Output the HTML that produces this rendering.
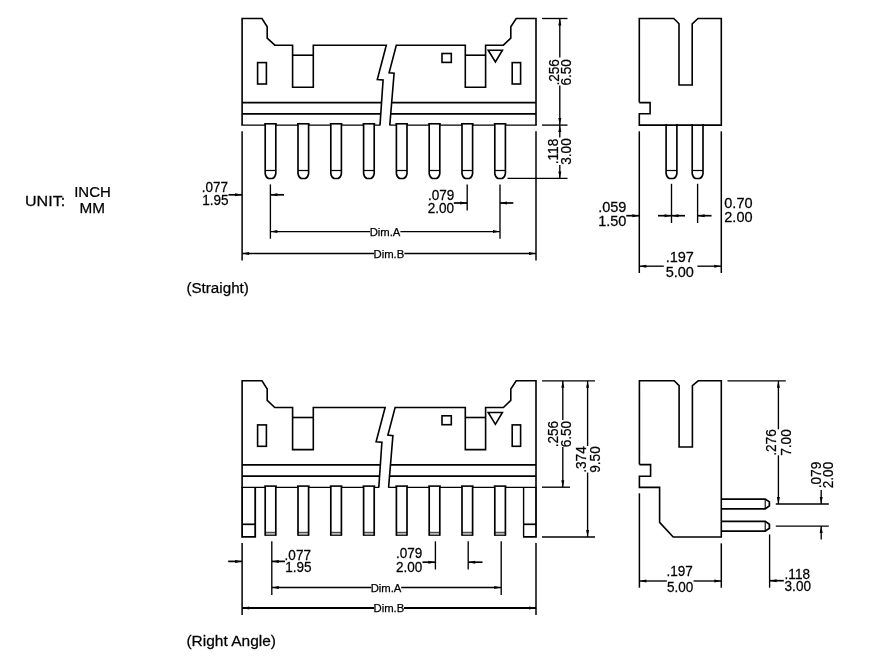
<!DOCTYPE html>
<html lang="en">
<head>
<meta charset="utf-8">
<title>Connector dimensions</title>
<style>
html,body{margin:0;padding:0;background:#fff;}
body{width:872px;height:658px;overflow:hidden;}
svg{display:block;will-change:transform;}
svg .bg{fill:#fff;stroke:none;}
svg line,svg polyline,svg polygon,svg path,svg rect{fill:none;stroke:#000;stroke-width:1.6;stroke-linecap:butt;stroke-linejoin:miter;}
svg .d{stroke-width:1.35;}
svg .a{fill:#000;stroke:none;}
svg .t{font-family:"Liberation Sans",sans-serif;font-size:15.3px;fill:#000;stroke:#000;stroke-width:0.25px;}
</style>
</head>
<body>
<svg role="img" aria-label="Connector outline drawing with dimensions" width="872" height="658" viewBox="0 0 872 658">
<rect class="bg" x="0" y="0" width="872" height="658"/>
<g id="straight-front">
<line x1="241.3" y1="125.1" x2="380.4" y2="125.1" style="stroke-width:1.35"/>
<polyline points="242.1,125.1 242.1,18.5 262,18.5 267.2,26.8 267.2,38.1 274.8,45.2 292.6,45.2 292.6,87.3 313.3,87.3 313.3,45.2 386.3,45.2 377.3,79.5 383.1,79.9 380,125.1"/>
<line x1="292.6" y1="55.2" x2="313.3" y2="55.2"/>
<rect x="257.6" y="62.6" width="8.8" height="21.4"/>
<line x1="242.1" y1="102.6" x2="381.5" y2="102.6"/>
<line x1="242.1" y1="113.9" x2="380.8" y2="113.9" style="stroke-width:1.8"/>
<line x1="389.4" y1="125.1" x2="536.8" y2="125.1" style="stroke-width:1.35"/>
<polyline points="536,125.1 536,18.5 516.2,18.5 510.8,26.8 510.8,38.1 503.4,45.2 485.6,45.2 485.6,87.3 465.3,87.3 465.3,45.2 396.3,45.2 389.1,72.8 394.1,73.3 389.8,125.1"/>
<line x1="465.3" y1="55.2" x2="485.6" y2="55.2"/>
<rect x="442" y="53.5" width="9.3" height="8.9"/>
<rect x="512.2" y="62.6" width="8.4" height="21.4"/>
<polygon points="488.2,50.2 502.4,50.2 495.4,62"/>
<line x1="391.7" y1="102.6" x2="536" y2="102.6"/>
<line x1="390.8" y1="113.9" x2="536" y2="113.9" style="stroke-width:1.8"/>
<rect x="265.2" y="123.5" width="10.6" height="3" style="fill:#fff;stroke:none"/>
<line x1="264.2" y1="123.8" x2="276.8" y2="123.8" style="stroke-width:1.6"/>
<path d="M265.2 124.1 V173.6 Q265.7 177.2 268.5 178.5 H272.5 Q275.3 177.2 275.8 173.6 V124.1" style="stroke-width:1.65"/>
<line x1="265.2" y1="170.5" x2="275.8" y2="170.5" style="stroke-width:1.2"/>
<rect x="298" y="123.5" width="10.6" height="3" style="fill:#fff;stroke:none"/>
<line x1="297" y1="123.8" x2="309.6" y2="123.8" style="stroke-width:1.6"/>
<path d="M298 124.1 V173.6 Q298.5 177.2 301.3 178.5 H305.3 Q308.1 177.2 308.6 173.6 V124.1" style="stroke-width:1.65"/>
<line x1="298" y1="170.5" x2="308.6" y2="170.5" style="stroke-width:1.2"/>
<rect x="330.8" y="123.5" width="10.6" height="3" style="fill:#fff;stroke:none"/>
<line x1="329.8" y1="123.8" x2="342.4" y2="123.8" style="stroke-width:1.6"/>
<path d="M330.8 124.1 V173.6 Q331.3 177.2 334.1 178.5 H338.1 Q340.9 177.2 341.4 173.6 V124.1" style="stroke-width:1.65"/>
<line x1="330.8" y1="170.5" x2="341.4" y2="170.5" style="stroke-width:1.2"/>
<rect x="363.6" y="123.5" width="10.6" height="3" style="fill:#fff;stroke:none"/>
<line x1="362.6" y1="123.8" x2="375.2" y2="123.8" style="stroke-width:1.6"/>
<path d="M363.6 124.1 V173.6 Q364.1 177.2 366.9 178.5 H370.9 Q373.7 177.2 374.2 173.6 V124.1" style="stroke-width:1.65"/>
<line x1="363.6" y1="170.5" x2="374.2" y2="170.5" style="stroke-width:1.2"/>
<rect x="396.4" y="123.5" width="10.6" height="3" style="fill:#fff;stroke:none"/>
<line x1="395.4" y1="123.8" x2="408" y2="123.8" style="stroke-width:1.6"/>
<path d="M396.4 124.1 V173.6 Q396.9 177.2 399.7 178.5 H403.7 Q406.5 177.2 407 173.6 V124.1" style="stroke-width:1.65"/>
<line x1="396.4" y1="170.5" x2="407" y2="170.5" style="stroke-width:1.2"/>
<rect x="429.2" y="123.5" width="10.6" height="3" style="fill:#fff;stroke:none"/>
<line x1="428.2" y1="123.8" x2="440.8" y2="123.8" style="stroke-width:1.6"/>
<path d="M429.2 124.1 V173.6 Q429.7 177.2 432.5 178.5 H436.5 Q439.3 177.2 439.8 173.6 V124.1" style="stroke-width:1.65"/>
<line x1="429.2" y1="170.5" x2="439.8" y2="170.5" style="stroke-width:1.2"/>
<rect x="462" y="123.5" width="10.6" height="3" style="fill:#fff;stroke:none"/>
<line x1="461" y1="123.8" x2="473.6" y2="123.8" style="stroke-width:1.6"/>
<path d="M462 124.1 V173.6 Q462.5 177.2 465.3 178.5 H469.3 Q472.1 177.2 472.6 173.6 V124.1" style="stroke-width:1.65"/>
<line x1="462" y1="170.5" x2="472.6" y2="170.5" style="stroke-width:1.2"/>
<rect x="494.8" y="123.5" width="10.6" height="3" style="fill:#fff;stroke:none"/>
<line x1="493.8" y1="123.8" x2="506.4" y2="123.8" style="stroke-width:1.6"/>
<path d="M494.8 124.1 V173.6 Q495.3 177.2 498.1 178.5 H502.1 Q504.9 177.2 505.4 173.6 V124.1" style="stroke-width:1.65"/>
<line x1="494.8" y1="170.5" x2="505.4" y2="170.5" style="stroke-width:1.2"/>
</g>
<g id="straight-front-dims">
<line class="d" x1="242.1" y1="131.3" x2="242.1" y2="260.5" style="stroke-width:1.5"/>
<line class="d" x1="536" y1="131.3" x2="536" y2="260.5" style="stroke-width:1.5"/>
<line class="d" x1="270.4" y1="184.4" x2="270.4" y2="238.8"/>
<line class="d" x1="228.5" y1="194.8" x2="242.1" y2="194.8" style="stroke-width:1.7"/>
<polygon class="a" points="242.1,194.8 235.1,193.3 235.1,196.3"/>
<line class="d" x1="270.4" y1="194.8" x2="284" y2="194.8" style="stroke-width:1.7"/>
<polygon class="a" points="270.4,194.8 277.4,193.3 277.4,196.3"/>
<text class="t" transform="translate(228.1 191.5) scale(0.96 1)" style="font-size:14.1px" text-anchor="end">.077</text>
<text class="t" transform="translate(228.5 205.2) scale(0.96 1)" style="font-size:14.1px" text-anchor="end">1.95</text>
<line class="d" x1="467.2" y1="184.4" x2="467.2" y2="210.5"/>
<line class="d" x1="500" y1="184.4" x2="500" y2="238.8"/>
<line class="d" x1="453.8" y1="203" x2="467.2" y2="203" style="stroke-width:1.7"/>
<polygon class="a" points="467.2,203 460.2,201.5 460.2,204.5"/>
<line class="d" x1="500" y1="203" x2="513.3" y2="203" style="stroke-width:1.7"/>
<polygon class="a" points="500,203 507,201.5 507,204.5"/>
<text class="t" transform="translate(454.3 199.8) scale(0.96 1)" style="font-size:14.1px" text-anchor="end">.079</text>
<text class="t" transform="translate(454.1 213.1) scale(0.96 1)" style="font-size:14.1px" text-anchor="end">2.00</text>
<line class="d" x1="270.4" y1="231.6" x2="370" y2="231.6"/>
<line class="d" x1="400.4" y1="231.6" x2="500" y2="231.6"/>
<polygon class="a" points="270.4,231.6 277.4,230.1 277.4,233.1"/>
<polygon class="a" points="500,231.6 493,230.1 493,233.1"/>
<text class="t" transform="translate(385 235.8)" style="font-size:11.3px" text-anchor="middle">Dim.A</text>
<line class="d" x1="242.1" y1="253.5" x2="374" y2="253.5"/>
<line class="d" x1="404.3" y1="253.5" x2="536" y2="253.5"/>
<polygon class="a" points="242.1,253.5 249.1,252 249.1,255"/>
<polygon class="a" points="536,253.5 529,252 529,255"/>
<text class="t" transform="translate(388.9 257.8)" style="font-size:11.3px" text-anchor="middle">Dim.B</text>
<line class="d" x1="542" y1="18.5" x2="567.5" y2="18.5"/>
<line class="d" x1="542" y1="125.1" x2="567.5" y2="125.1"/>
<line class="d" x1="507.5" y1="178.4" x2="567.5" y2="178.4"/>
<line class="d" x1="559.8" y1="18.5" x2="559.8" y2="57.5"/>
<line class="d" x1="559.8" y1="85.6" x2="559.8" y2="137.6"/>
<line class="d" x1="559.8" y1="165" x2="559.8" y2="178.4"/>
<polygon class="a" points="559.8,18.5 558.3,25.5 561.3,25.5"/>
<polygon class="a" points="559.8,125.1 558.3,118.1 561.3,118.1"/>
<polygon class="a" points="559.8,125.1 558.3,132.1 561.3,132.1"/>
<polygon class="a" points="559.8,178.4 558.3,171.4 561.3,171.4"/>
<text class="t" transform="translate(558.6 72.3) rotate(-90) scale(0.89 1)" text-anchor="middle">.256</text>
<text class="t" transform="translate(571.4 72.3) rotate(-90) scale(0.89 1)" text-anchor="middle">6.50</text>
<text class="t" transform="translate(558 151.5) rotate(-90) scale(0.89 1)" text-anchor="middle">.118</text>
<text class="t" transform="translate(571.3 151.5) rotate(-90) scale(0.89 1)" text-anchor="middle">3.00</text>
</g>
<g id="labels">
<text class="t" transform="translate(186.4 293.3)" style="font-size:15.2px">(Straight)</text>
<text class="t" transform="translate(25 205.5) scale(1.05 1)" style="font-size:15.3px">UNIT:</text>
<text class="t" transform="translate(92.5 197.4) scale(0.98 1)" style="font-size:15.3px" text-anchor="middle">INCH</text>
<text class="t" transform="translate(92.3 212.7)" style="font-size:15.3px" text-anchor="middle">MM</text>
<text class="t" transform="translate(186.4 645.6) scale(1.02 1)" style="font-size:15.2px">(Right Angle)</text>
</g>
<g id="straight-side">
<polyline points="639.3,102.6 639.3,18.5 673.8,18.5 679,23.8 679,85 692.2,85 692.2,23.8 698,18.5 721.3,18.5 721.3,125.1 639.3,125.1 639.3,113.8 650.1,113.8 650.1,102.6 639.3,102.6"/>
<path d="M666.1 124.1 V173.6 Q666.6 177.2 669.4 178.5 H673.6 Q676.4 177.2 676.9 173.6 V124.1" style="stroke-width:1.65"/>
<line x1="666.1" y1="170.5" x2="676.9" y2="170.5" style="stroke-width:1.2"/>
<path d="M692.2 124.1 V173.6 Q692.7 177.2 695.5 178.5 H699.7 Q702.5 177.2 703 173.6 V124.1" style="stroke-width:1.65"/>
<line x1="692.2" y1="170.5" x2="703" y2="170.5" style="stroke-width:1.2"/>
</g>
<g id="straight-side-dims">
<line class="d" x1="639.3" y1="131.3" x2="639.3" y2="273" style="stroke-width:1.5"/>
<line class="d" x1="721.3" y1="131.3" x2="721.3" y2="273" style="stroke-width:1.5"/>
<line class="d" x1="671.5" y1="183.8" x2="671.5" y2="223"/>
<line class="d" x1="697.6" y1="183.8" x2="697.6" y2="223"/>
<line class="d" x1="626.3" y1="215.7" x2="639.3" y2="215.7" style="stroke-width:1.7"/>
<polygon class="a" points="639.3,215.7 632.3,214.2 632.3,217.2"/>
<line class="d" x1="658" y1="215.7" x2="685" y2="215.7" style="stroke-width:1.7"/>
<polygon class="a" points="671.5,215.7 664.5,214.2 664.5,217.2"/>
<polygon class="a" points="671.5,215.7 678.5,214.2 678.5,217.2"/>
<line class="d" x1="697.6" y1="215.7" x2="711.5" y2="215.7" style="stroke-width:1.7"/>
<polygon class="a" points="697.6,215.7 704.6,214.2 704.6,217.2"/>
<text class="t" transform="translate(626.4 211.6) scale(0.95 1)" text-anchor="end">.059</text>
<text class="t" transform="translate(626.4 226.2) scale(0.95 1)" text-anchor="end">1.50</text>
<text class="t" transform="translate(724.3 207.5) scale(0.95 1)">0.70</text>
<text class="t" transform="translate(724.3 221.5) scale(0.95 1)">2.00</text>
<line class="d" x1="639.3" y1="266.2" x2="663.8" y2="266.2"/>
<line class="d" x1="697.4" y1="266.2" x2="721.3" y2="266.2"/>
<polygon class="a" points="639.3,266.2 646.3,264.7 646.3,267.7"/>
<polygon class="a" points="721.3,266.2 714.3,264.7 714.3,267.7"/>
<text class="t" transform="translate(679.8 262) scale(0.95 1)" text-anchor="middle">.197</text>
<text class="t" transform="translate(679.8 276.8) scale(0.95 1)" text-anchor="middle">5.00</text>
</g>
<g id="angle-front">
<line x1="241.3" y1="487.4" x2="379.2" y2="487.4" style="stroke-width:1.35"/>
<polyline points="242.1,487.4 242.1,380.8 262,380.8 267.2,389.1 267.2,400.4 274.8,407.5 292.6,407.5 292.6,449.6 313.3,449.6 313.3,407.5 385.1,407.5 376.1,441.8 381.9,442.2 378.8,487.4"/>
<line x1="292.6" y1="417.5" x2="313.3" y2="417.5"/>
<rect x="257.6" y="424.9" width="8.8" height="21.4"/>
<line x1="242.1" y1="464.9" x2="380.3" y2="464.9"/>
<line x1="242.1" y1="476.2" x2="379.6" y2="476.2" style="stroke-width:1.8"/>
<line x1="388.2" y1="487.4" x2="536.8" y2="487.4" style="stroke-width:1.35"/>
<polyline points="536,487.4 536,380.8 516.2,380.8 510.8,389.1 510.8,400.4 503.4,407.5 485.6,407.5 485.6,449.6 465.3,449.6 465.3,407.5 395.1,407.5 387.9,435.1 392.9,435.6 388.6,487.4"/>
<line x1="465.3" y1="417.5" x2="485.6" y2="417.5"/>
<rect x="442" y="415.8" width="9.3" height="8.9"/>
<rect x="512.2" y="424.9" width="8.4" height="21.4"/>
<polygon points="488.2,412.5 502.4,412.5 495.4,424.3"/>
<line x1="390.5" y1="464.9" x2="536" y2="464.9"/>
<line x1="389.6" y1="476.2" x2="536" y2="476.2" style="stroke-width:1.8"/>
<rect x="265.2" y="485.8" width="10.6" height="3" style="fill:#fff;stroke:none"/>
<line x1="264.2" y1="486.1" x2="276.8" y2="486.1" style="stroke-width:1.6"/>
<rect x="265.8" y="532.5" width="9.4" height="2.4" style="stroke:none;fill:#b4b4b4"/>
<line x1="265.2" y1="486.4" x2="265.2" y2="535.8" style="stroke-width:1.7"/>
<line x1="275.8" y1="486.4" x2="275.8" y2="535.8" style="stroke-width:1.7"/>
<line x1="265.2" y1="535.3" x2="275.8" y2="535.3" style="stroke-width:1.1"/>
<line x1="265.2" y1="532.3" x2="275.8" y2="532.3" style="stroke-width:0.8"/>
<rect x="298" y="485.8" width="10.6" height="3" style="fill:#fff;stroke:none"/>
<line x1="297" y1="486.1" x2="309.6" y2="486.1" style="stroke-width:1.6"/>
<rect x="298.6" y="532.5" width="9.4" height="2.4" style="stroke:none;fill:#b4b4b4"/>
<line x1="298" y1="486.4" x2="298" y2="535.8" style="stroke-width:1.7"/>
<line x1="308.6" y1="486.4" x2="308.6" y2="535.8" style="stroke-width:1.7"/>
<line x1="298" y1="535.3" x2="308.6" y2="535.3" style="stroke-width:1.1"/>
<line x1="298" y1="532.3" x2="308.6" y2="532.3" style="stroke-width:0.8"/>
<rect x="330.8" y="485.8" width="10.6" height="3" style="fill:#fff;stroke:none"/>
<line x1="329.8" y1="486.1" x2="342.4" y2="486.1" style="stroke-width:1.6"/>
<rect x="331.4" y="532.5" width="9.4" height="2.4" style="stroke:none;fill:#b4b4b4"/>
<line x1="330.8" y1="486.4" x2="330.8" y2="535.8" style="stroke-width:1.7"/>
<line x1="341.4" y1="486.4" x2="341.4" y2="535.8" style="stroke-width:1.7"/>
<line x1="330.8" y1="535.3" x2="341.4" y2="535.3" style="stroke-width:1.1"/>
<line x1="330.8" y1="532.3" x2="341.4" y2="532.3" style="stroke-width:0.8"/>
<rect x="363.6" y="485.8" width="10.6" height="3" style="fill:#fff;stroke:none"/>
<line x1="362.6" y1="486.1" x2="375.2" y2="486.1" style="stroke-width:1.6"/>
<rect x="364.2" y="532.5" width="9.4" height="2.4" style="stroke:none;fill:#b4b4b4"/>
<line x1="363.6" y1="486.4" x2="363.6" y2="535.8" style="stroke-width:1.7"/>
<line x1="374.2" y1="486.4" x2="374.2" y2="535.8" style="stroke-width:1.7"/>
<line x1="363.6" y1="535.3" x2="374.2" y2="535.3" style="stroke-width:1.1"/>
<line x1="363.6" y1="532.3" x2="374.2" y2="532.3" style="stroke-width:0.8"/>
<rect x="396.4" y="485.8" width="10.6" height="3" style="fill:#fff;stroke:none"/>
<line x1="395.4" y1="486.1" x2="408" y2="486.1" style="stroke-width:1.6"/>
<rect x="397" y="532.5" width="9.4" height="2.4" style="stroke:none;fill:#b4b4b4"/>
<line x1="396.4" y1="486.4" x2="396.4" y2="535.8" style="stroke-width:1.7"/>
<line x1="407" y1="486.4" x2="407" y2="535.8" style="stroke-width:1.7"/>
<line x1="396.4" y1="535.3" x2="407" y2="535.3" style="stroke-width:1.1"/>
<line x1="396.4" y1="532.3" x2="407" y2="532.3" style="stroke-width:0.8"/>
<rect x="429.2" y="485.8" width="10.6" height="3" style="fill:#fff;stroke:none"/>
<line x1="428.2" y1="486.1" x2="440.8" y2="486.1" style="stroke-width:1.6"/>
<rect x="429.8" y="532.5" width="9.4" height="2.4" style="stroke:none;fill:#b4b4b4"/>
<line x1="429.2" y1="486.4" x2="429.2" y2="535.8" style="stroke-width:1.7"/>
<line x1="439.8" y1="486.4" x2="439.8" y2="535.8" style="stroke-width:1.7"/>
<line x1="429.2" y1="535.3" x2="439.8" y2="535.3" style="stroke-width:1.1"/>
<line x1="429.2" y1="532.3" x2="439.8" y2="532.3" style="stroke-width:0.8"/>
<rect x="462" y="485.8" width="10.6" height="3" style="fill:#fff;stroke:none"/>
<line x1="461" y1="486.1" x2="473.6" y2="486.1" style="stroke-width:1.6"/>
<rect x="462.6" y="532.5" width="9.4" height="2.4" style="stroke:none;fill:#b4b4b4"/>
<line x1="462" y1="486.4" x2="462" y2="535.8" style="stroke-width:1.7"/>
<line x1="472.6" y1="486.4" x2="472.6" y2="535.8" style="stroke-width:1.7"/>
<line x1="462" y1="535.3" x2="472.6" y2="535.3" style="stroke-width:1.1"/>
<line x1="462" y1="532.3" x2="472.6" y2="532.3" style="stroke-width:0.8"/>
<rect x="494.8" y="485.8" width="10.6" height="3" style="fill:#fff;stroke:none"/>
<line x1="493.8" y1="486.1" x2="506.4" y2="486.1" style="stroke-width:1.6"/>
<rect x="495.4" y="532.5" width="9.4" height="2.4" style="stroke:none;fill:#b4b4b4"/>
<line x1="494.8" y1="486.4" x2="494.8" y2="535.8" style="stroke-width:1.7"/>
<line x1="505.4" y1="486.4" x2="505.4" y2="535.8" style="stroke-width:1.7"/>
<line x1="494.8" y1="535.3" x2="505.4" y2="535.3" style="stroke-width:1.1"/>
<line x1="494.8" y1="532.3" x2="505.4" y2="532.3" style="stroke-width:0.8"/>
<polyline points="242.1,487.4 242.1,536.8 255.2,536.8 255.2,487.4" style="stroke-width:1.8"/>
<line x1="242.1" y1="524.3" x2="255.2" y2="524.3" style="stroke-width:1.7"/>
<line x1="523.6" y1="487.4" x2="523.6" y2="536.8" style="stroke-width:1.4"/>
<polyline points="523,536.8 536,536.8 536,487.4" style="stroke-width:1.8"/>
<line x1="523.6" y1="524.3" x2="536" y2="524.3" style="stroke-width:1.7"/>
</g>
<g id="angle-front-dims">
<line class="d" x1="242.1" y1="543" x2="242.1" y2="615" style="stroke-width:1.5"/>
<line class="d" x1="536" y1="543" x2="536" y2="615" style="stroke-width:1.5"/>
<line class="d" x1="271.8" y1="541.3" x2="271.8" y2="595"/>
<line class="d" x1="501.2" y1="541.3" x2="501.2" y2="595"/>
<line class="d" x1="228.2" y1="561.4" x2="242.1" y2="561.4" style="stroke-width:1.7"/>
<polygon class="a" points="242.1,561.4 235.1,559.9 235.1,562.9"/>
<line class="d" x1="271.8" y1="561.4" x2="285" y2="561.4" style="stroke-width:1.7"/>
<polygon class="a" points="271.8,561.4 278.8,559.9 278.8,562.9"/>
<text class="t" transform="translate(284.6 559.7) scale(0.96 1)" style="font-size:14.1px">.077</text>
<text class="t" transform="translate(285.3 571.6) scale(0.96 1)" style="font-size:14.1px">1.95</text>
<line class="d" x1="435.4" y1="541.3" x2="435.4" y2="569.5"/>
<line class="d" x1="468.2" y1="541.3" x2="468.2" y2="569.5"/>
<line class="d" x1="422.5" y1="562.2" x2="435.4" y2="562.2" style="stroke-width:1.7"/>
<polygon class="a" points="435.4,562.2 428.4,560.7 428.4,563.7"/>
<line class="d" x1="468.2" y1="562.2" x2="482.5" y2="562.2" style="stroke-width:1.7"/>
<polygon class="a" points="468.2,562.2 475.2,560.7 475.2,563.7"/>
<text class="t" transform="translate(422.4 557.5) scale(0.96 1)" style="font-size:14.1px" text-anchor="end">.079</text>
<text class="t" transform="translate(422.4 572) scale(0.96 1)" style="font-size:14.1px" text-anchor="end">2.00</text>
<line class="d" x1="271.8" y1="587.5" x2="371.2" y2="587.5"/>
<line class="d" x1="401.2" y1="587.5" x2="501.2" y2="587.5"/>
<polygon class="a" points="271.8,587.5 278.8,586 278.8,589"/>
<polygon class="a" points="501.2,587.5 494.2,586 494.2,589"/>
<text class="t" transform="translate(386 591.7)" style="font-size:11.3px" text-anchor="middle">Dim.A</text>
<line class="d" x1="242.1" y1="607.9" x2="374.2" y2="607.9" style="stroke-width:2"/>
<line class="d" x1="404" y1="607.9" x2="536" y2="607.9" style="stroke-width:2"/>
<polygon class="a" points="242.1,607.9 249.1,606.4 249.1,609.4"/>
<polygon class="a" points="536,607.9 529,606.4 529,609.4"/>
<text class="t" transform="translate(388.9 612.1)" style="font-size:11.3px" text-anchor="middle">Dim.B</text>
<line class="d" x1="542" y1="380.8" x2="595" y2="380.8"/>
<line class="d" x1="542" y1="487.2" x2="570" y2="487.2"/>
<line class="d" x1="542" y1="537" x2="595" y2="537"/>
<line class="d" x1="562.8" y1="380.8" x2="562.8" y2="420"/>
<line class="d" x1="562.8" y1="447" x2="562.8" y2="487.2"/>
<polygon class="a" points="562.8,380.8 561.3,387.8 564.3,387.8"/>
<polygon class="a" points="562.8,487.2 561.3,480.2 564.3,480.2"/>
<line class="d" x1="587.6" y1="380.8" x2="587.6" y2="446"/>
<line class="d" x1="587.6" y1="472.5" x2="587.6" y2="537"/>
<polygon class="a" points="587.6,380.8 586.1,387.8 589.1,387.8"/>
<polygon class="a" points="587.6,537 586.1,530 589.1,530"/>
<text class="t" transform="translate(558 434.1) rotate(-90) scale(0.89 1)" text-anchor="middle">.256</text>
<text class="t" transform="translate(570.7 434.1) rotate(-90) scale(0.89 1)" text-anchor="middle">6.50</text>
<text class="t" transform="translate(586.2 459.5) rotate(-90) scale(0.89 1)" text-anchor="middle">.374</text>
<text class="t" transform="translate(600 459.5) rotate(-90) scale(0.89 1)" text-anchor="middle">9.50</text>
</g>
<g id="angle-side">
<polyline points="639.4,464.6 639.4,380.8 674.2,380.8 679.1,385.6 679.1,447 692.4,447 692.4,385.6 698.2,380.8 721.3,380.8 721.3,537 673.2,537 659.6,522.4 659.6,487.4 639.4,487.4 639.4,476.2 650.6,476.2 650.6,464.6 639.4,464.6" style="stroke-width:1.6"/>
<path d="M721.3 499 H765.2 L769.4 501.9 V505.9 L765.2 508.8 H721.3" style="stroke-width:1.75"/>
<line x1="765.2" y1="499" x2="765.2" y2="508.8" style="stroke-width:1.1"/>
<path d="M721.3 521.4 H765.2 L769.4 524.3 V528.2 L765.2 531.1 H721.3" style="stroke-width:1.75"/>
<line x1="765.2" y1="521.4" x2="765.2" y2="531.1" style="stroke-width:1.1"/>
</g>
<g id="angle-side-dims">
<line class="d" x1="727.5" y1="380.8" x2="785.8" y2="380.8"/>
<line class="d" x1="775.8" y1="504" x2="828.8" y2="504"/>
<line class="d" x1="775.8" y1="526.1" x2="828.8" y2="526.1"/>
<line class="d" x1="778.4" y1="380.8" x2="778.4" y2="429.3"/>
<line class="d" x1="778.4" y1="455.3" x2="778.4" y2="504"/>
<polygon class="a" points="778.4,380.8 776.9,387.8 779.9,387.8"/>
<polygon class="a" points="778.4,504 776.9,497 779.9,497"/>
<line class="d" x1="821.2" y1="490" x2="821.2" y2="504"/>
<polygon class="a" points="821.2,504 819.7,497 822.7,497"/>
<line class="d" x1="821.2" y1="526.1" x2="821.2" y2="539.6"/>
<polygon class="a" points="821.2,526.1 819.7,533.1 822.7,533.1"/>
<text class="t" transform="translate(776.2 442.5) rotate(-90) scale(0.89 1)" text-anchor="middle">.276</text>
<text class="t" transform="translate(790.6 442.5) rotate(-90) scale(0.89 1)" text-anchor="middle">7.00</text>
<text class="t" transform="translate(821.2 475) rotate(-90) scale(0.89 1)" text-anchor="middle">.079</text>
<text class="t" transform="translate(832.6 475) rotate(-90) scale(0.89 1)" text-anchor="middle">2.00</text>
<line class="d" x1="639.4" y1="493.3" x2="639.4" y2="587.7" style="stroke-width:1.5"/>
<line class="d" x1="721.3" y1="543.3" x2="721.3" y2="587.7" style="stroke-width:1.5"/>
<line class="d" x1="639.4" y1="581" x2="666.9" y2="581"/>
<line class="d" x1="693.5" y1="581" x2="721.3" y2="581"/>
<polygon class="a" points="639.4,581 646.4,579.5 646.4,582.5"/>
<polygon class="a" points="721.3,581 714.3,579.5 714.3,582.5"/>
<text class="t" transform="translate(679.7 575.6) scale(0.96 1)" style="font-size:14.1px" text-anchor="middle">.197</text>
<text class="t" transform="translate(680.2 592.3) scale(0.96 1)" style="font-size:14.1px" text-anchor="middle">5.00</text>
<line class="d" x1="769.6" y1="534.5" x2="769.6" y2="587.7"/>
<line class="d" x1="769.6" y1="580.7" x2="783.8" y2="580.7" style="stroke-width:1.7"/>
<polygon class="a" points="769.6,580.7 776.6,579.2 776.6,582.2"/>
<text class="t" transform="translate(784.6 578.6) scale(0.96 1)" style="font-size:14.1px">.118</text>
<text class="t" transform="translate(784.6 591.2) scale(0.96 1)" style="font-size:14.1px">3.00</text>
</g>
</svg>
</body>
</html>
